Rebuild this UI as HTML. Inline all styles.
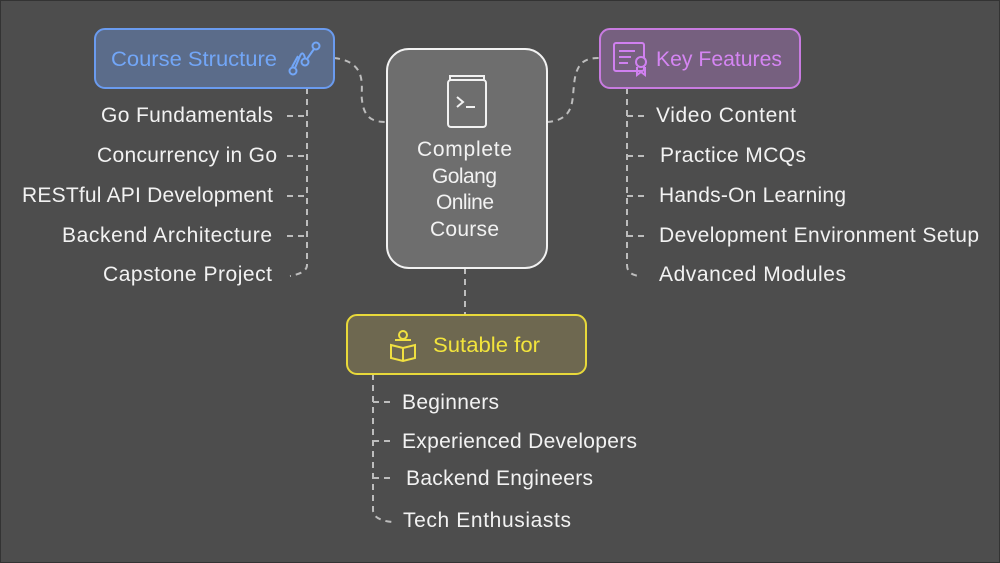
<!DOCTYPE html>
<html><head><meta charset="utf-8"><style>
html,body{margin:0;padding:0;background:#4d4d4d;}
svg{display:block}
text{font-family:"Liberation Sans",sans-serif;}
</style></head><body>
<svg width="1000" height="563" viewBox="0 0 1000 563" xmlns="http://www.w3.org/2000/svg">
<rect x="0.5" y="0.5" width="999" height="562" fill="#4d4d4d" stroke="#333" />
<g fill="none" stroke="#bdbdbd" stroke-width="2" stroke-dasharray="6,5">
<path d="M334 58 C370 62 360 90 362 100 C364 120 375 122 387 122"/>
<path d="M547 122 C575 120 572 100 574 85 C576 62 585 58 599 58"/>
<path d="M465 268 L465 314"/>
<path d="M307 88 L307 265 Q307 273 290 276"/>
<path d="M287 116 H307 M287 156 H307 M287 196 H307 M287 236 H307"/>
<path d="M627 88 L627 265 Q627 275 640 276"/>
<path d="M627 116 H645 M627 156 H645 M627 196 H645 M627 236 H645"/>
<path d="M373 374 L373 510 Q373 520 392 522"/>
<path d="M373 402 H392 M373 441 H390 M373 478 H395"/>
</g>
<rect x="95" y="29" width="239" height="59" rx="10" fill="#5b6c8a" stroke="#6a9bef" stroke-width="2"/>
<text x="111" y="66" font-size="21" fill="#72a6f7" textLength="166" lengthAdjust="spacingAndGlyphs">Course Structure</text>
<g fill="none" stroke="#72a6f7" stroke-width="2">
<circle cx="293" cy="71" r="3.5"/><circle cx="305" cy="62" r="3.5"/><circle cx="316" cy="46" r="3.5"/>
<path d="M295 68 L300 56 Q303 50 305 58 M307 59 L314 49 M292 67 L298 56"/>
</g>
<rect x="387" y="49" width="160" height="219" rx="22" fill="#6e6e6e" stroke="#f2f2f2" stroke-width="2"/>
<g fill="none" stroke="#f2f2f2" stroke-width="2">
<rect x="448" y="80" width="38" height="47" rx="3"/>
<path d="M450 80 V76 H484 V80"/>
<path d="M457 97 L463 102 L457 107 M466 107 H475"/>
</g>
<g font-size="21" fill="#f2f2f2" lengthAdjust="spacingAndGlyphs">
<text x="417" y="156" textLength="95">Complete</text><text x="432" y="183" textLength="65">Golang</text><text x="436" y="209" textLength="58">Online</text><text x="430" y="236" textLength="69">Course</text>
</g>
<rect x="600" y="29" width="200" height="59" rx="10" fill="#76607f" stroke="#c87be0" stroke-width="2"/>
<g fill="none" stroke="#d080f0" stroke-width="2">
<rect x="614" y="43" width="30" height="28" rx="2"/>
<path d="M619 51 H635 M619 57 H631 M619 63 H628"/>
<circle cx="641" cy="62" r="5" fill="#76607f"/>
<path d="M637 67 V75 L641 72 L645 75 V67"/>
</g>
<text x="656" y="66" font-size="21" fill="#d585f3" textLength="126" lengthAdjust="spacingAndGlyphs">Key Features</text>
<rect x="347" y="315" width="239" height="59" rx="10" fill="#6e6850" stroke="#e8d93a" stroke-width="2"/>
<g fill="none" stroke="#f0e040" stroke-width="2">
<circle cx="403" cy="335" r="4"/>
<path d="M391 345 L403 348 L415 345 L415 358 L403 361 L391 358 Z M403 348 V361"/>
<path d="M395 340 H411"/>
</g>
<text x="433" y="352" font-size="21" fill="#f2e43c" textLength="107" lengthAdjust="spacingAndGlyphs">Sutable for</text>
<g font-size="21" fill="#f2f2f2" lengthAdjust="spacingAndGlyphs">
<text x="101" y="122" textLength="172">Go Fundamentals</text>
<text x="97" y="162" textLength="180">Concurrency in Go</text>
<text x="22" y="202" textLength="251">RESTful API Development</text>
<text x="62" y="242" textLength="210">Backend Architecture</text>
<text x="103" y="281" textLength="169">Capstone Project</text>
<text x="656" y="122" textLength="140">Video Content</text>
<text x="660" y="162" textLength="146">Practice MCQs</text>
<text x="659" y="202" textLength="187">Hands-On Learning</text>
<text x="659" y="242" textLength="320">Development Environment Setup</text>
<text x="659" y="281" textLength="187">Advanced Modules</text>
<text x="402" y="409" textLength="97">Beginners</text>
<text x="402" y="448" textLength="235">Experienced Developers</text>
<text x="406" y="485" textLength="187">Backend Engineers</text>
<text x="403" y="527" textLength="168">Tech Enthusiasts</text>
</g>
</svg>
</body></html>
